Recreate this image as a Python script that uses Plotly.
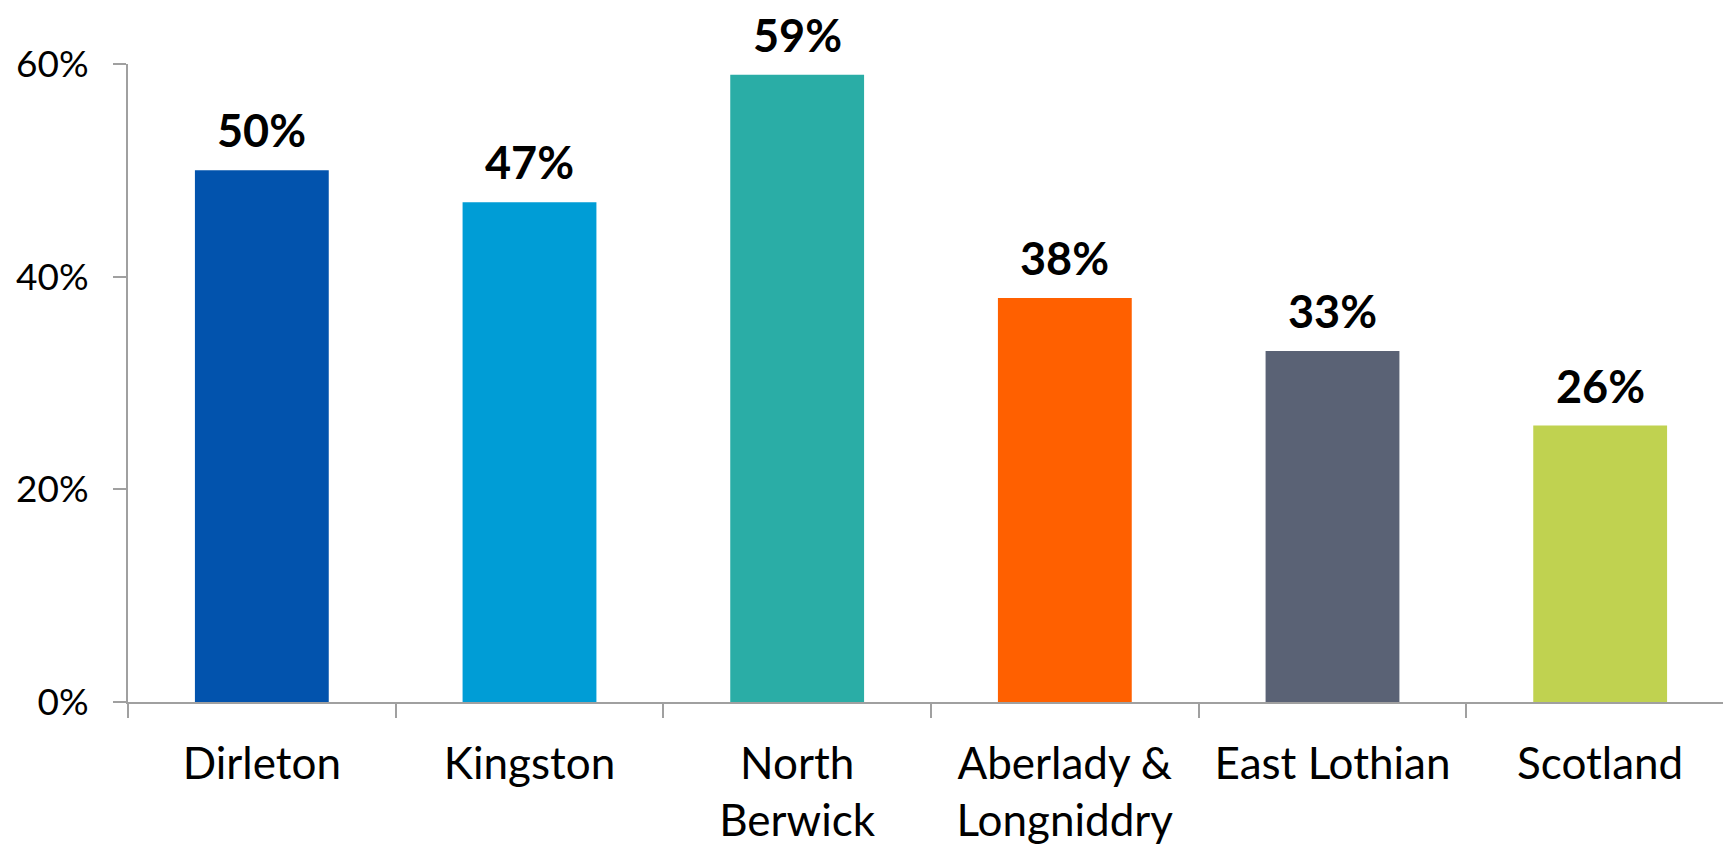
import plotly.graph_objects as go

categories = ["Dirleton", "Kingston", "North<br>Berwick", "Aberlady &<br>Longniddry", "East Lothian", "Scotland"]
values = [50, 47, 59, 38, 33, 26]
colors = ["#0253AD", "#009DD6", "#2AADA6", "#FF6000", "#5A6275", "#C0D250"]
y_ticks = [0, 20, 40, 60]
y_tick_labels = ["0%", "20%", "40%", "60%"]

axis_color = "#A0A0A0"
font_family = "Lato, Open Sans, sans-serif"

fig = go.Figure()
fig.add_trace(go.Bar(
    x=categories,
    y=values,
    width=0.5,
    marker=dict(color=colors, line=dict(width=0)),
    hoverinfo="skip",
))

for c, v in zip(categories, values):
    fig.add_annotation(
        x=c, y=v, text=f"<b>{v}%</b>", showarrow=False,
        xanchor="center", yanchor="bottom", yshift=12, borderpad=0,
        font=dict(family=font_family, size=45, color="#000000"),
    )

fig.update_layout(
    width=1731, height=848,
    margin=dict(l=120, r=5, t=56, b=154),
    paper_bgcolor="white", plot_bgcolor="white",
    showlegend=False,
    font=dict(family=font_family, color="#000000"),
)
fig.update_xaxes(
    type="category",
    showline=True, linecolor=axis_color, linewidth=2,
    ticks="outside", tickson="boundaries", ticklen=14, tickwidth=2, tickcolor=axis_color,
    tickfont=dict(family=font_family, size=44, color="#000000"),
    ticklabelstandoff=22,
    showgrid=False, zeroline=False,
)
fig.update_yaxes(
    range=[0, 60],
    tickvals=y_ticks, ticktext=y_tick_labels,
    showline=True, linecolor=axis_color, linewidth=2,
    ticks="outside", ticklen=13, tickwidth=2, tickcolor=axis_color,
    tickfont=dict(family=font_family, size=37, color="#000000"),
    ticklabelstandoff=17,
    showgrid=False, zeroline=False,
)

fig.write_html("out.html")
